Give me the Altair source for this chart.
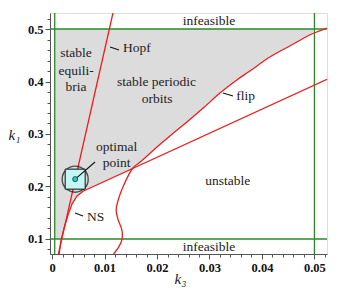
import altair as alt
import pandas as pd

# ---- data ----
# Hopf line (k3, k1)
hopf_k3 = [0.0012, 0.0116]
hopf_k1 = [0.0714, 0.5305]

# NS curve continuing as straight line to the right edge
ns_k3 = [0.00135, 0.00171, 0.00229, 0.00305, 0.00381, 0.00476, 0.0059, 0.0524]
ns_k1 = [0.0714, 0.098, 0.121, 0.146, 0.167, 0.182, 0.191, 0.404]

# flip curve
flip_k3 = [0.0524, 0.0495, 0.0453, 0.0415, 0.0377, 0.0352, 0.0320, 0.0288, 0.0257,
           0.0228, 0.0200, 0.0168, 0.0154, 0.0135, 0.0126, 0.0122, 0.0126, 0.0133,
           0.0133, 0.0126, 0.0117]
flip_k1 = [0.5019, 0.4905, 0.4676, 0.4467, 0.420, 0.4029, 0.3781, 0.3495, 0.3229,
           0.2990, 0.2752, 0.2467, 0.2352, 0.199, 0.1743, 0.1552, 0.1362, 0.1171,
           0.0981, 0.0829, 0.0714]

# stable (grey) region: right boundary per k1
stable_k1 = [0.1, 0.121, 0.146, 0.167, 0.182, 0.191, 0.2352, 0.2467, 0.2752, 0.2990,
             0.3229, 0.3495, 0.3781, 0.4029, 0.420, 0.4467, 0.4676, 0.4905, 0.5]
stable_k3 = [0.00176, 0.00229, 0.00305, 0.00381, 0.00476, 0.0059, 0.01543, 0.01676,
             0.0200, 0.0228, 0.02571, 0.02876, 0.0320, 0.03524, 0.03771, 0.04152,
             0.04533, 0.0495, 0.05]
stable_left = 0.0005

# feasibility limits
feas_k3 = [0.0005, 0.05]
feas_k1 = [0.1, 0.5]

# optimal point
opt_k3 = [0.0044]
opt_k1 = [0.214]

# annotation texts
lab_text = ["infeasible", "infeasible", "stable", "equili-", "bria", "stable periodic",
            "orbits", "unstable", "optimal", "point"]
lab_k3 = [0.0299, 0.0299, 0.00457, 0.00457, 0.00457, 0.0199, 0.0200, 0.0335, 0.0123, 0.0123]
lab_k1 = [0.5152, 0.0848, 0.4543, 0.4200, 0.3895, 0.3990, 0.3672, 0.2105, 0.2758, 0.2453]

lab2_text = ["Hopf", "flip", "NS"]
lab2_k3 = [0.0135, 0.0351, 0.00667]
lab2_k1 = [0.4638, 0.3724, 0.1419]

# leader lines (seg id, k3, k1)
lead_id = [0, 0, 1, 1, 2, 2, 3, 3]
lead_k3 = [0.01105, 0.01276, 0.03257, 0.03448, 0.00438, 0.0059, 0.0044, 0.00819]
lead_k1 = [0.4657, 0.4600, 0.3781, 0.3724, 0.1495, 0.1438, 0.214, 0.2467]

x_ticks = [round(i * 0.002, 3) for i in range(0, 27)]
y_ticks = [round(0.08 + i * 0.02, 2) for i in range(0, 23)]

# ---- chart ----
XDOM = [-0.0004, 0.0524]
YDOM = [0.0714, 0.5305]
SERIF = "Liberation Serif"
RED = "#f01c1c"
GREEN = "#2a8a2a"

xs = alt.Scale(domain=XDOM, nice=False, zero=False)
ys = alt.Scale(domain=YDOM, nice=False, zero=False)

XMAJ = "abs(datum.value*100 - round(datum.value*100)) < 0.01"
YMAJ = "abs(datum.value*10 - round(datum.value*10)) < 0.01"

xaxis = alt.Axis(
    values=x_ticks, format=".2~f",
    labelExpr=XMAJ + " ? datum.label : ''",
    tickSize={"condition": {"test": XMAJ, "value": 5}, "value": 3},
    grid=False, labelFont=SERIF, labelFontWeight="bold", labelFontSize=12.5, labelColor="#111",
    labelPadding=2, domainColor="#555", tickColor="#555", labelOverlap=False, labelBound=False,
    title="k₃", titleFont=SERIF, titleFontStyle="italic", titleFontWeight="normal", titleFontSize=15,
    titleX=130, titleY=24, titleBaseline="middle", titleColor="#222", labelFlush=False,
)
yaxis = alt.Axis(
    values=y_ticks, format=".1~f",
    labelExpr=YMAJ + " ? datum.label : ''",
    tickSize={"condition": {"test": YMAJ, "value": 5}, "value": 3},
    grid=False, labelFont=SERIF, labelFontWeight="bold", labelFontSize=12.5, labelColor="#111",
    labelPadding=2, domainColor="#555", tickColor="#555", labelOverlap=False, labelBound=False,
    title="k₁", titleFont=SERIF, titleFontStyle="italic", titleFontWeight="normal", titleFontSize=15,
    titleAngle=0, titleX=-36, titleY=121, titleAlign="center", titleBaseline="middle", titleColor="#222",
    labelFlush=False,
)


def X(f):
    return alt.X(f, scale=xs, axis=xaxis)


def Y(f):
    return alt.Y(f, scale=ys, axis=yaxis)


def line_df(k3, k1):
    return pd.DataFrame({"k3": k3, "k1": k1, "i": range(len(k3))})


stable_df = pd.DataFrame({"k1": stable_k1, "right": stable_k3, "left": [stable_left] * len(stable_k1)})
grey = alt.Chart(stable_df).mark_area(color="#dcdcdc", orient="horizontal", opacity=1).encode(
    y=Y("k1:Q"), x=X("left:Q"), x2="right:Q")

vrules = alt.Chart(pd.DataFrame({"k3": feas_k3})).mark_rule(color=GREEN, strokeWidth=1.3).encode(
    x=X("k3:Q"))
hrules = alt.Chart(pd.DataFrame({"k1": feas_k1})).mark_rule(color=GREEN, strokeWidth=1.3).encode(
    y=Y("k1:Q"))


def red_line(k3, k1):
    return alt.Chart(line_df(k3, k1)).mark_line(color=RED, strokeWidth=1.3, clip=True,
                                                interpolate="monotone").encode(
        x=X("k3:Q"), y=Y("k1:Q"), order="i:Q")


hopf = red_line(hopf_k3, hopf_k1)
ns = alt.Chart(line_df(ns_k3, ns_k1)).mark_line(color=RED, strokeWidth=1.3, clip=True).encode(
    x=X("k3:Q"), y=Y("k1:Q"), order="i:Q")
flip = alt.Chart(line_df(flip_k3, flip_k1)).mark_line(color=RED, strokeWidth=1.3, clip=True,
                                                      interpolate="catmull-rom").encode(
    x=X("k3:Q"), y=Y("k1:Q"), order="i:Q")

opt_df = pd.DataFrame({"k3": opt_k3, "k1": opt_k1})
circle = alt.Chart(opt_df).mark_point(shape="circle", size=680, filled=False, color="#111", strokeWidth=1.4).encode(
    x=X("k3:Q"), y=Y("k1:Q"))
square = alt.Chart(opt_df).mark_point(shape="square", size=400, filled=True, fill="#c4f6f6", stroke="#111",
                                      strokeWidth=1, opacity=1, fillOpacity=1).encode(
    x=X("k3:Q"), y=Y("k1:Q"))

lead_df = pd.DataFrame({"g": lead_id, "k3": lead_k3, "k1": lead_k1})
leaders = alt.Chart(lead_df).mark_line(color="#111", strokeWidth=1.1).encode(
    x=X("k3:Q"), y=Y("k1:Q"), detail="g:N")

dot = alt.Chart(opt_df).mark_point(shape="circle", size=26, filled=True, fill="#2ec4c4", stroke="#114444",
                                   strokeWidth=0.8, opacity=1).encode(
    x=X("k3:Q"), y=Y("k1:Q"))

lab_df = pd.DataFrame({"t": lab_text, "k3": lab_k3, "k1": lab_k1})
labels = alt.Chart(lab_df).mark_text(font=SERIF, fontSize=13.5, color="#222", align="center",
                                     baseline="middle").encode(
    x=X("k3:Q"), y=Y("k1:Q"), text="t:N")
lab2_df = pd.DataFrame({"t": lab2_text, "k3": lab2_k3, "k1": lab2_k1})
labels2 = alt.Chart(lab2_df).mark_text(font=SERIF, fontSize=13.5, color="#222", align="left",
                                       baseline="middle").encode(
    x=X("k3:Q"), y=Y("k1:Q"), text="t:N")

chart = alt.layer(grey, vrules, hrules, hopf, ns, flip, circle, square, leaders, dot, labels, labels2).properties(
    width=277, height=241,
    autosize=alt.AutoSizeParams(type="none"),
    padding={"left": 42, "top": 5, "right": 6, "bottom": 37},
).configure_view(stroke="#555", strokeWidth=1).configure_axis(labelOverlap=False).configure(background="white")

chart.save("out.html", embed_options={"renderer": "svg", "actions": False})
